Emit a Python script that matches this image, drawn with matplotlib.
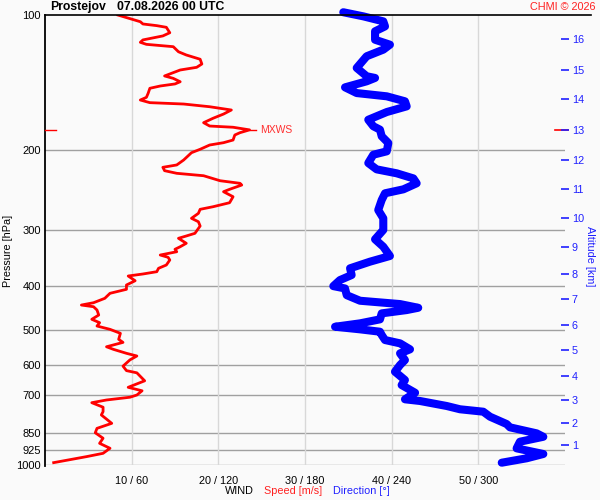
import numpy as np
import matplotlib
matplotlib.use("Agg")
import matplotlib.pyplot as plt
import matplotlib.transforms as mtransforms

plt.rcParams['font.family'] = ['Liberation Sans', 'DejaVu Sans']

# wind speed profile [m/s] vs pressure [hPa]
speed_p = [100, 103.5, 104.7, 105.6, 106.5, 109.5, 111.3, 113.6, 115.0, 116.2,
           117.6, 120.7, 122.7, 125.4, 128.5, 130.7, 132.5, 134.3, 136.6, 138.3,
           140.7, 142.3, 143.8, 145.5, 149.3, 152.4, 154.5, 156.6, 157.7, 159.9,
           162.6, 166.0, 169.6, 173.5, 176.5, 177.6, 180.0, 182.6, 184.8, 189.6,
           192.2, 194.5, 198.8, 202.3, 210.0, 215.4, 218.0, 221.8, 224.8, 227.6,
           233.5, 236.6, 238.7, 244.0, 247.0, 253.4, 261.3, 266.7, 270.3, 275.9,
           283.0, 288.0, 294.4, 305.6, 309.8, 313.5, 321.6, 327.3, 331.6, 335.8,
           341.5, 345.5, 350.3, 359.4, 365.5, 371.9, 376.3, 380.2, 389.5, 398.1,
           407.0, 415.4, 426.2, 435.9, 441.1, 444.9, 452.5, 464.2, 474.5, 482.8,
           491.1, 499.5, 509.8, 525.7, 534.0, 546.1, 553.4, 564.7, 572.5, 584,
           603, 617, 624, 650, 672, 684, 699, 707, 717, 727,
           744, 761, 774, 808, 829, 848, 872, 895, 918, 942,
           958, 988]
speed = [8.4, 11.0, 11.3, 12.9, 14.0, 14.4, 13.6, 11.3, 11.0, 11.7,
         14.8, 15.4, 16.3, 17.9, 18.1, 17.5, 15.6, 14.8, 13.8, 14.8,
         15.6, 15.0, 13.3, 12.1, 11.9, 11.7, 11.0, 12.1, 16.0, 19.0,
         21.5, 20.6, 19.4, 18.3, 19.0, 21.7, 23.6, 22.5, 21.9, 21.7,
         20.6, 19.0, 17.9, 16.9, 16.0, 15.2, 13.6, 13.8, 15.2, 18.3,
         20.2, 22.5, 22.7, 21.3, 20.6, 21.7, 21.3, 19.4, 17.9, 17.7,
         16.9, 17.7, 17.9, 17.3, 16.3, 15.4, 16.3, 15.6, 15.0, 15.2,
         13.3, 14.2, 14.4, 14.0, 13.1, 12.9, 11.3, 9.6, 10.4, 9.4,
         9.4, 7.5, 6.9, 5.6, 4.2, 5.6, 6.0, 6.2, 5.4, 6.3,
         6.0, 7.5, 8.7, 8.5, 9.0, 7.1, 7.9, 9.4, 10.6, 9.8,
         9.0, 9.4, 10.6, 11.5, 9.6, 11.2, 10.6, 9.8, 7.1, 5.4,
         6.7, 6.7, 6.5, 7.7, 6.0, 5.8, 6.7, 6.3, 7.5, 6.7,
         4.8, 1.0]

# wind direction profile [deg] vs pressure [hPa]
dir_p = [98.6, 100.7, 103.3, 106.0, 108.7, 113.5, 116.4, 119.4, 123.5, 131.1,
         136.8, 138.0, 140.4, 144.8, 149.1, 151.6, 155.5, 159.6, 164.3, 170.9,
         176.7, 179.8, 186.0, 192.5, 200.9, 204.4, 213.3, 220.3, 224.8, 230.7,
         236.6, 244.0, 249.0, 257.7, 271.3, 283.0, 300.4, 315.1, 327.3, 343.2,
         353.3, 365.5, 378.3, 388.2, 400.4, 405.2, 419.4, 431.5, 438.9, 447.3,
         452.6, 460.3, 474.6, 484.4, 492.9, 499.5, 505.6, 514.2, 527.6, 536.6,
         553.3, 564.8, 584.4, 599.5, 620.4, 647.4, 664.2, 690.9, 714.5, 720.7,
         739.4, 751.9, 761.3, 781.1, 810.9, 824.7, 850.5, 865.6, 887.6, 918.3,
         945.2, 966.2, 988.3]
direction = [206.5, 220.4, 234.2, 235.4, 228.5, 228.5, 238.8, 234.2, 222.7, 215.8,
             222.7, 228.5, 222.7, 207.7, 215.8, 236.6, 249.2, 250.4, 236.6, 223.8,
             227.3, 231.9, 233.1, 237.7, 236.6, 227.3, 223.8, 229.6, 243.5, 255.0,
             257.3, 248.1, 235.4, 233.1, 230.7, 234.2, 234.2, 228.5, 234.2, 238.8,
             225.0, 211.2, 212.3, 204.2, 199.6, 207.7, 208.9, 218.1, 245.8, 258.4,
             250.4, 233.1, 231.9, 218.1, 200.8, 218.1, 231.9, 233.1, 235.4, 245.8,
             252.7, 245.8, 249.2, 245.8, 242.3, 249.2, 246.9, 256.2, 249.2, 259.6,
             278.1, 287.3, 303.4, 308.1, 319.6, 321.9, 340.4, 345.0, 328.8, 326.5,
             345.0, 333.5, 316.2]

p_levels = [100, 200, 300, 400, 500, 600, 700, 850, 925, 1000]
speed_ticks = [10, 20, 30, 40, 50]
alt_km = [1, 2, 3, 4, 5, 6, 7, 8, 9, 10, 11, 12, 13, 14, 15, 16]
alt_p = [902.6, 805.4, 716.9, 633.4, 555.2, 488.5, 427.7, 375.7, 327.8, 282.6,
         243.6, 210.0, 180.0, 153.7, 132.2, 113.1]
mxws_p = 180.0
mxws_speed = 23.6

bg = '#fafafa'
fig = plt.figure(figsize=(6, 5), dpi=100, facecolor=bg)
ax = fig.add_axes([45/600, 35/500, 520/600, 450/500], facecolor=bg)

ax.set_yscale('log')
ax.set_ylim(1000, 100)
ax.set_xlim(0, 60)

for p in p_levels[1:]:
    ax.axhline(p, color='#a0a0a0', lw=1.0, zorder=1)
for s in speed_ticks:
    ax.axvline(s, color='#d8d8d8', lw=1.0, zorder=1)

# direction on the same x scale (0..360 -> 0..60)
ax.plot(np.array(direction) / 6.0, dir_p, color='#0000ff', lw=5.8,
        solid_capstyle='round', solid_joinstyle='round', zorder=3, clip_on=False)
ax.plot(speed, speed_p, color='#ff0000', lw=2, zorder=4)

# max wind marker
trans = mtransforms.blended_transform_factory(ax.transAxes, ax.transData)
ax.plot([0, 0.021], [mxws_p, mxws_p], color='red', lw=1, transform=trans, clip_on=False, zorder=5)
ax.plot([0.98, 1.005], [mxws_p, mxws_p], color='red', lw=1.2, transform=trans, clip_on=False, zorder=6)
ax.plot([mxws_speed, mxws_speed + 0.8], [mxws_p, mxws_p], color='red', lw=1, zorder=5)
ax.text(mxws_speed + 1.2, mxws_p, 'MXWS', color='#ff3030', fontsize=7.5,
        va='center', ha='left')

ax.set_yticks(p_levels)
ax.set_yticklabels([str(p) for p in p_levels])
ax.yaxis.set_minor_locator(matplotlib.ticker.NullLocator())
ax.tick_params(axis='y', length=0, pad=3, labelsize=8)
ax.set_xticks(speed_ticks)
ax.set_xticklabels(['%d / %d' % (s, s * 6) for s in speed_ticks])
ax.tick_params(axis='x', length=0, pad=8, labelsize=7.8)

for side in ['right', 'bottom', 'top']:
    ax.spines[side].set_visible(False)
ax.spines['left'].set_linewidth(1.3)
ax.spines['left'].set_bounds(1005, 100)

# top line
ax.plot([0, 1.05], [100, 100], color='black', lw=1.2, transform=trans, clip_on=False, zorder=6)

ax2 = ax.twinx()
ax2.set_yscale('log')
ax2.set_ylim(1000, 100)
ax2.set_yticks(alt_p)
ax2.set_yticklabels([str(a) for a in alt_km])
ax2.yaxis.set_minor_locator(matplotlib.ticker.NullLocator())
ax2.tick_params(axis='y', direction='inout', length=6, width=1.2, colors='#2020ff',
                labelsize=7.8, pad=2)
for side in ['right', 'left', 'bottom', 'top']:
    ax2.spines[side].set_visible(False)

fig.text(50/600, 1 - 7/500, 'Prostejov', fontsize=8.8, fontweight='bold', va='center', ha='left')
fig.text(117/600, 1 - 7/500, '07.08.2026 00 UTC', fontsize=8.8, fontweight='bold', va='center', ha='left')
fig.text(596/600, 1 - 7/500, 'CHMI \u00a9 2026', fontsize=7.8, color='#ff2020', va='center', ha='right')
fig.text(8/600, 1 - 251/500, 'Pressure [hPa]', fontsize=7.8, rotation=90, va='center', ha='center')
fig.text(590/600, 1 - 256/500, 'Altitude [km]', fontsize=7.8, rotation=270, va='center', ha='center',
         color='#2020ff')
fig.text(225/600, 1 - 491.5/500, 'WIND', fontsize=7.8, va='center', ha='left')
fig.text(264/600, 1 - 491.5/500, 'Speed [m/s]', fontsize=7.8, va='center', ha='left', color='#ff2020')
fig.text(333/600, 1 - 491.5/500, 'Direction [\u00b0]', fontsize=7.8, va='center', ha='left', color='#2020ff')

fig.savefig('out.png', dpi=100, facecolor=bg)
